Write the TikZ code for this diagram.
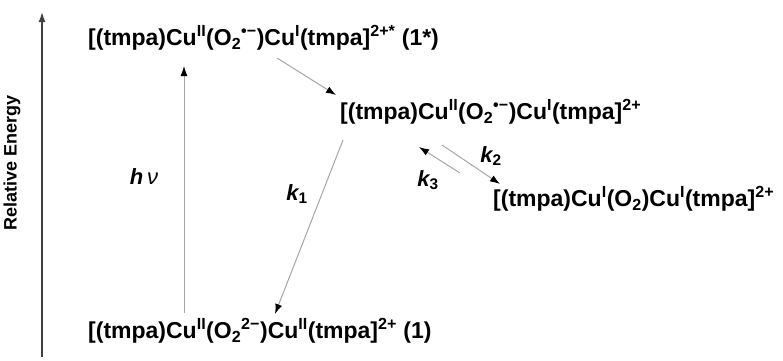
\documentclass[tikz,border=0pt]{standalone}
\usepackage{fontspec}
\setmainfont{Liberation Sans}
\usetikzlibrary{arrows.meta}
\begin{document}
\begin{tikzpicture}[x=1pt,y=-1pt,
    species/.style={anchor=west, inner sep=0pt, font=\fontsize{23}{26}\selectfont\bfseries},
    rate/.style={inner sep=0pt, font=\fontsize{22}{26}\selectfont\bfseries\itshape},
    path/.style={gray!70, line width=1pt, -{Latex[black,length=10pt,width=7pt]}}]
    \useasboundingbox (0,0) rectangle (783,360);

    % 能量轴
    \coordinate (Ebot) at (42,357);
    \coordinate (Etop) at (42,12);
    \draw[black!75, line width=1.4pt, -{Latex[length=10pt,width=7pt]}] (Ebot) -- (Etop);
    \node[rotate=90, inner sep=0pt, font=\fontsize{18}{21}\selectfont\bfseries] (Elab) at (12,163) {Relative Energy};

    % 各物种
    \node[species] (S1x) at (88,38) {[(tmpa)Cu\textsuperscript{II}(O\textsubscript{2}\textsuperscript{•−})Cu\textsuperscript{I}(tmpa]\textsuperscript{2+*} (1*)};
    \node[species] (Sm) at (340,112) {[(tmpa)Cu\textsuperscript{II}(O\textsubscript{2}\textsuperscript{•−})Cu\textsuperscript{I}(tmpa]\textsuperscript{2+}};
    \node[species] (Sp) at (493,199) {[(tmpa)Cu\textsuperscript{I}(O\textsubscript{2})Cu\textsuperscript{I}(tmpa]\textsuperscript{2+}};
    \node[species] (S1) at (88,331) {[(tmpa)Cu\textsuperscript{II}(O\textsubscript{2}\textsuperscript{2−})Cu\textsuperscript{II}(tmpa]\textsuperscript{2+} (1)};

    % 箭头端点
    \coordinate (hvA) at (184,313);
    \coordinate (hvB) at (184,66);
    \coordinate (rA) at (277,58);
    \coordinate (rB) at (336,95);
    \coordinate (k1A) at (343,140);
    \coordinate (k1B) at (275,314);
    \coordinate (k2A) at (442,145);
    \coordinate (k2B) at (500,184);
    \coordinate (k3A) at (460,173);
    \coordinate (k3B) at (419,147);

    % 反应路径
    \draw[path] (hvA) -- (hvB);
    \draw[path] (rA) -- (rB);
    \draw[path] (k1A) -- (k1B);
    \draw[path] (k2A) -- (k2B);
    \draw[path] (k3A) -- (k3B);

    % 速率标注
    \node[rate] (hv) at (144,177) {h\,{\mdseries ν}};
    \node[rate] (k1) at (297,194) {k\textsubscript{\upshape 1}};
    \node[rate] (k2) at (491,156) {k\textsubscript{\upshape 2}};
    \node[rate] (k3) at (428,180) {k\textsubscript{\upshape 3}};
\end{tikzpicture}
\end{document}
